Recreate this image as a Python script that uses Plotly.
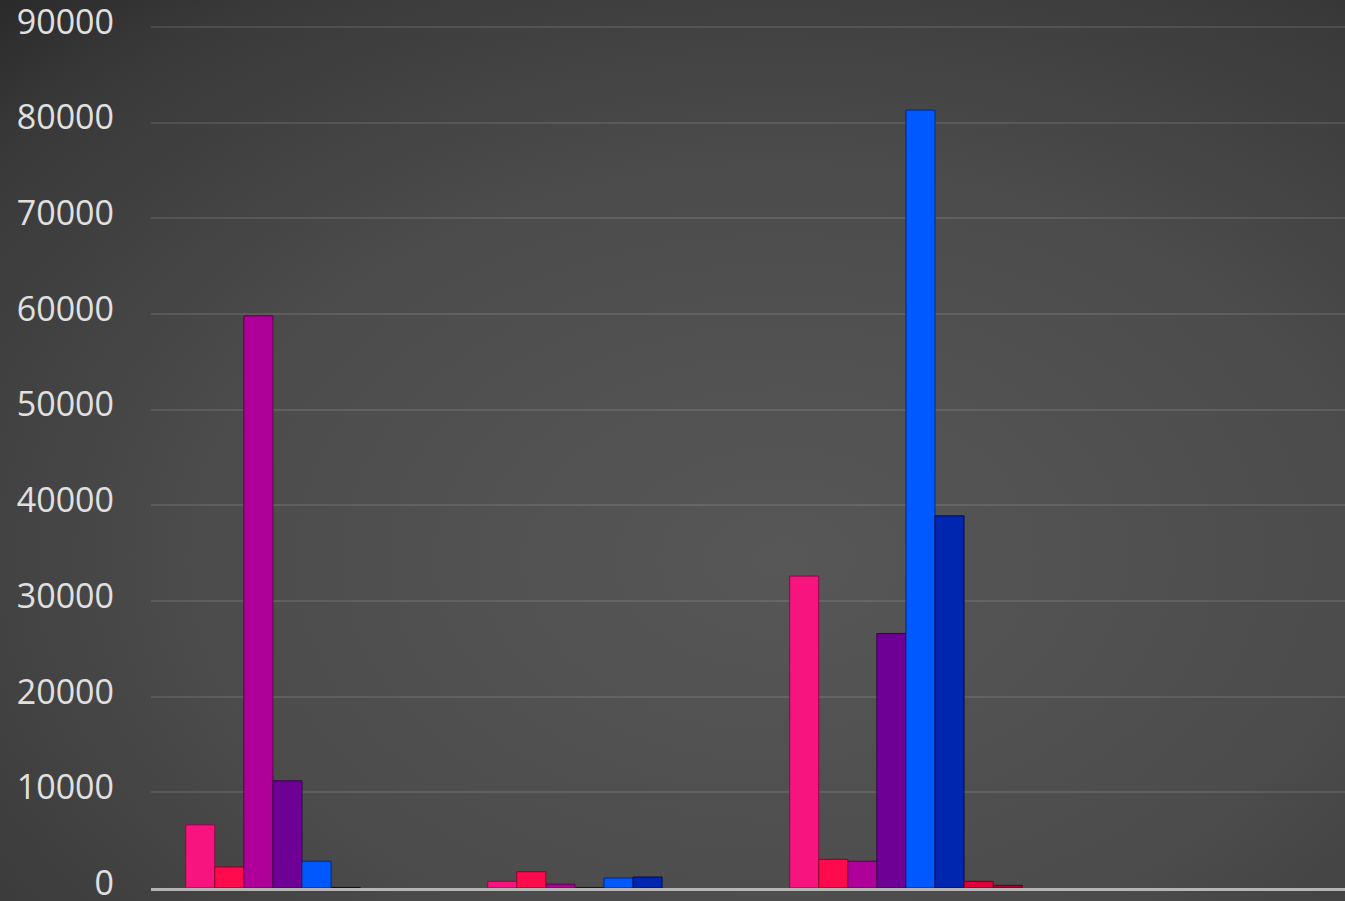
import plotly.graph_objects as go
import urllib.parse

categories = ["A", "B", "C", "D"]
series_names = ["S1", "S2", "S3", "S4", "S5", "S6", "S7", "S8"]
series_values = [
    [6600, 700, 32600, 0],
    [2200, 1700, 3000, 0],
    [59800, 400, 2800, 0],
    [11200, 60, 26600, 0],
    [2800, 1050, 81300, 0],
    [60, 1150, 38900, 0],
    [0, 0, 700, 0],
    [0, 0, 280, 0],
]
y_ticks = [0, 10000, 20000, 30000, 40000, 50000, 60000, 70000, 80000, 90000]
y_tick_labels = ["0", "10000", "20000", "30000", "40000", "50000", "60000", "70000", "80000", "90000"]

colors = ["#f7147f", "#ff0a4c", "#b0009a", "#6e0096", "#0058ff", "#0026b0", "#e0003a", "#b0002e"]
edge = ["#8a0a48", "#8a0028", "#5a004c", "#36004a", "#002a80", "#000e50", "#700018", "#580014"]

W, H = 1345, 901
ml, mr, mt, mb = 151, 0, 24, 13

svg = (
    f'<svg xmlns="http://www.w3.org/2000/svg" width="{W}" height="{H}" viewBox="0 0 {W} {H}" preserveAspectRatio="none">'
    '<defs><radialGradient id="g" cx="0.58" cy="0.62" r="0.85">'
    '<stop offset="0" stop-color="#575757"/>'
    '<stop offset="0.5" stop-color="#4c4c4c"/>'
    '<stop offset="0.86" stop-color="#393939"/>'
    '<stop offset="1" stop-color="#2a2a2a"/>'
    '</radialGradient></defs>'
    f'<rect width="{W}" height="{H}" fill="url(#g)"/></svg>'
)
src = "data:image/svg+xml;charset=utf-8," + urllib.parse.quote(svg)

fig = go.Figure()
for name, vals, c, e in zip(series_names, series_values, colors, edge):
    fig.add_trace(go.Bar(
        x=categories, y=vals, name=name,
        marker=dict(color=c, line=dict(color=e, width=[1 if v > 0 else 0 for v in vals])),
    ))

pw = W - ml - mr
ph = H - mt - mb
fig.add_layout_image(dict(
    source=src, xref="paper", yref="paper",
    x=-ml / pw, y=1 + mt / ph, sizex=W / pw, sizey=H / ph,
    xanchor="left", yanchor="top", sizing="stretch", layer="below",
))

fig.update_layout(
    width=W, height=H,
    margin=dict(l=ml, r=mr, t=mt, b=mb, pad=0, autoexpand=False),
    paper_bgcolor="#3a3a3a",
    plot_bgcolor="rgba(0,0,0,0)",
    barmode="group", bargap=0.23, bargroupgap=0,
    showlegend=False,
    font=dict(family="Open Sans", size=34, color="#e0e0e0"),
    xaxis=dict(
        range=[-0.5, 3.454], showticklabels=False, showgrid=False,
        showline=True, linecolor="rgba(200,200,200,0.85)", linewidth=3,
        layer="above traces", zeroline=False, automargin=False,
    ),
    yaxis=dict(
        range=[0, 90300], tickvals=y_ticks, ticktext=y_tick_labels, showgrid=True,
        gridcolor="rgba(255,255,255,0.1)", gridwidth=2, zeroline=False, automargin=False,
        ticklabelstandoff=36, ticklabelshift=-5, ticklabeloverflow="allow",
        tickfont=dict(family="Open Sans", size=34, color="#e0e0e0"),
        showline=False,
    ),
)

fig.write_html(
    "out.html",
    config={"displayModeBar": False},
    post_script="document.body.style.margin='0';document.body.style.overflow='hidden';",
)
